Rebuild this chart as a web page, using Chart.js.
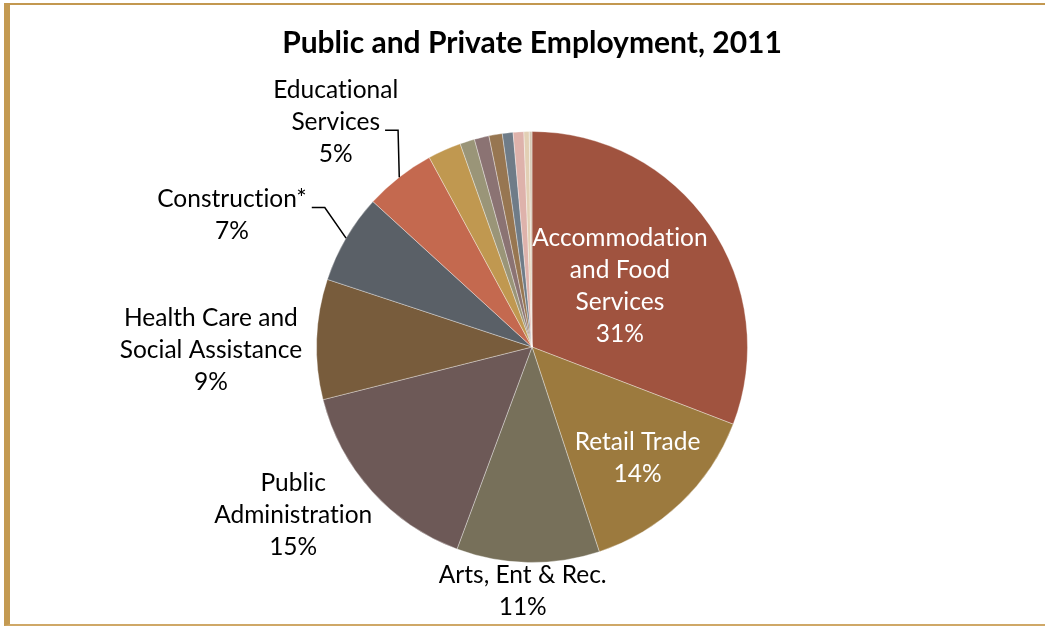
<!DOCTYPE html>
<html>
<head>
<meta charset="utf-8">
<title>Public and Private Employment, 2011</title>
<script src="https://cdn.jsdelivr.net/npm/chart.js@4/dist/chart.umd.min.js"></script>
<style>
  html, body { margin: 0; padding: 0; background: #fff; }
  #wrap { position: relative; width: 1045px; height: 626px; }
  #frame {
    position: absolute; left: 4px; top: 3px; right: -10px; bottom: 0px;
    border-left: 6px solid #c49a52;
    border-top: 2px solid #c39850;
    border-bottom: 2px solid #cfa867;
    pointer-events: none;
  }
</style>
</head>
<body>
<div id="wrap">
  <canvas id="empChart" width="1045" height="626"></canvas>
  <div id="frame"></div>
</div>
<script>
// Employment share by sector, 2011 (percent of total jobs)
const sectors = [
  "Accommodation and Food Services",
  "Retail Trade",
  "Arts, Entertainment & Recreation",
  "Public Administration",
  "Health Care and Social Assistance",
  "Construction",
  "Educational Services",
  "Manufacturing",
  "Other Services",
  "Professional & Technical Services",
  "Administrative & Support",
  "Transportation & Warehousing",
  "Real Estate",
  "Finance & Insurance",
  "Information",
]
const shares = [30.8, 14.1, 10.7, 15.4, 9.0, 6.7, 5.3, 2.5, 1.1, 1.1, 1.0, 0.8, 0.8, 0.4, 0.2]

// Text shown on the slices (null = no label)
const sliceLabels = [
  "Accommodation\nand Food\nServices",
  "Retail Trade",
  "Arts, Ent & Rec.",
  "Public\nAdministration",
  "Health Care and\nSocial Assistance",
  "Construction*",
  "Educational\nServices",
  null, null, null, null, null, null, null, null,
]

const sliceColors = [
  "#a0533f", "#9c7a3e", "#77705a", "#6d5957", "#785c3c", "#5a6067", "#c4694f",
  "#c09850", "#9a9578", "#8b7373", "#977651", "#6f7c88", "#deb2ab", "#e2cfb4", "#d6c9b6",
]

// Label placement: r = distance as a fraction of the radius, da = angle nudge (deg),
// leader = line index the leader line hangs from
const labelPlacement = [
  { r: 0.495, da: 0, color: "#fff" },
  { r: 0.71, da: 0, color: "#fff" },
  { r: 1.134, da: 1.1, color: "#000" },
  { r: 1.356, da: 6.7, color: "#000" },
  { r: 1.49, da: -2.6, color: "#000" },
  { r: 1.52, da: -6.7, color: "#000", leader: 0 },
  { r: 1.385, da: -3.1, color: "#000", leader: 1 },
]

const FONT = "Lato, 'Open Sans', sans-serif"
const LINE_H = 32

// Draws the category/percent labels and leader lines from the arc geometry
const sliceLabelPlugin = {
  id: "sliceLabels",
  afterDatasetsDraw(chart) {
    const ctx = chart.ctx
    const arcs = chart.getDatasetMeta(0).data
    const total = shares.reduce((a, b) => a + b, 0)

    ctx.save()
    ctx.font = "24.5px " + FONT
    ctx.letterSpacing = "0.01px" // keeps "ti" from turning into a ligature
    ctx.textAlign = "center"
    ctx.textBaseline = "middle"

    arcs.forEach((arc, i) => {
      const place = labelPlacement[i]
      if (!sliceLabels[i] || !place) return
      const { x, y, startAngle, endAngle, outerRadius } = arc.getProps(
        ["x", "y", "startAngle", "endAngle", "outerRadius"], true)
      const mid = (startAngle + endAngle) / 2
      const a = mid + (place.da * Math.PI) / 180
      const cx = x + Math.cos(a) * outerRadius * place.r
      const cy = y + Math.sin(a) * outerRadius * place.r

      const lines = sliceLabels[i].split("\n")
      lines.push(Math.round((shares[i] / total) * 100) + "%")
      const top = cy - ((lines.length - 1) * LINE_H) / 2

      ctx.fillStyle = place.color
      lines.forEach((ln, k) => ctx.fillText(ln, cx, top + k * LINE_H))

      if (place.leader !== undefined) {
        const ly = top + place.leader * LINE_H + 8
        const lx = cx + ctx.measureText(lines[place.leader]).width / 2 + 5
        const ex = x + Math.cos(mid) * outerRadius
        const ey = y + Math.sin(mid) * outerRadius
        ctx.strokeStyle = "#000"
        ctx.lineWidth = 1.5
        ctx.beginPath()
        ctx.moveTo(lx, ly)
        ctx.lineTo(lx + 13, ly)
        ctx.lineTo(ex, ey)
        ctx.stroke()
      }
    })
    ctx.restore()
  },
}

const ctx = document.getElementById("empChart").getContext("2d")
new Chart(ctx, {
  type: "pie",
  data: {
    labels: sectors,
    datasets: [
      {
        data: shares,
        backgroundColor: sliceColors,
        borderColor: "rgba(255,255,255,0.35)",
        borderWidth: 1,
        hoverOffset: 0,
        offset: 0,
      },
    ],
  },
  options: {
    responsive: false,
    animation: false,
    layout: { padding: { left: 119, right: 100, top: 0, bottom: 63 } },
    plugins: {
      legend: { display: false },
      tooltip: { enabled: false },
      title: {
        display: true,
        text: "Public and Private Employment, 2011",
        color: "#000",
        font: { family: FONT, size: 30, weight: "bold", lineHeight: 1.2 },
        padding: { top: 25, bottom: 70 },
      },
    },
  },
  plugins: [sliceLabelPlugin],
})
</script>
</body>
</html>
